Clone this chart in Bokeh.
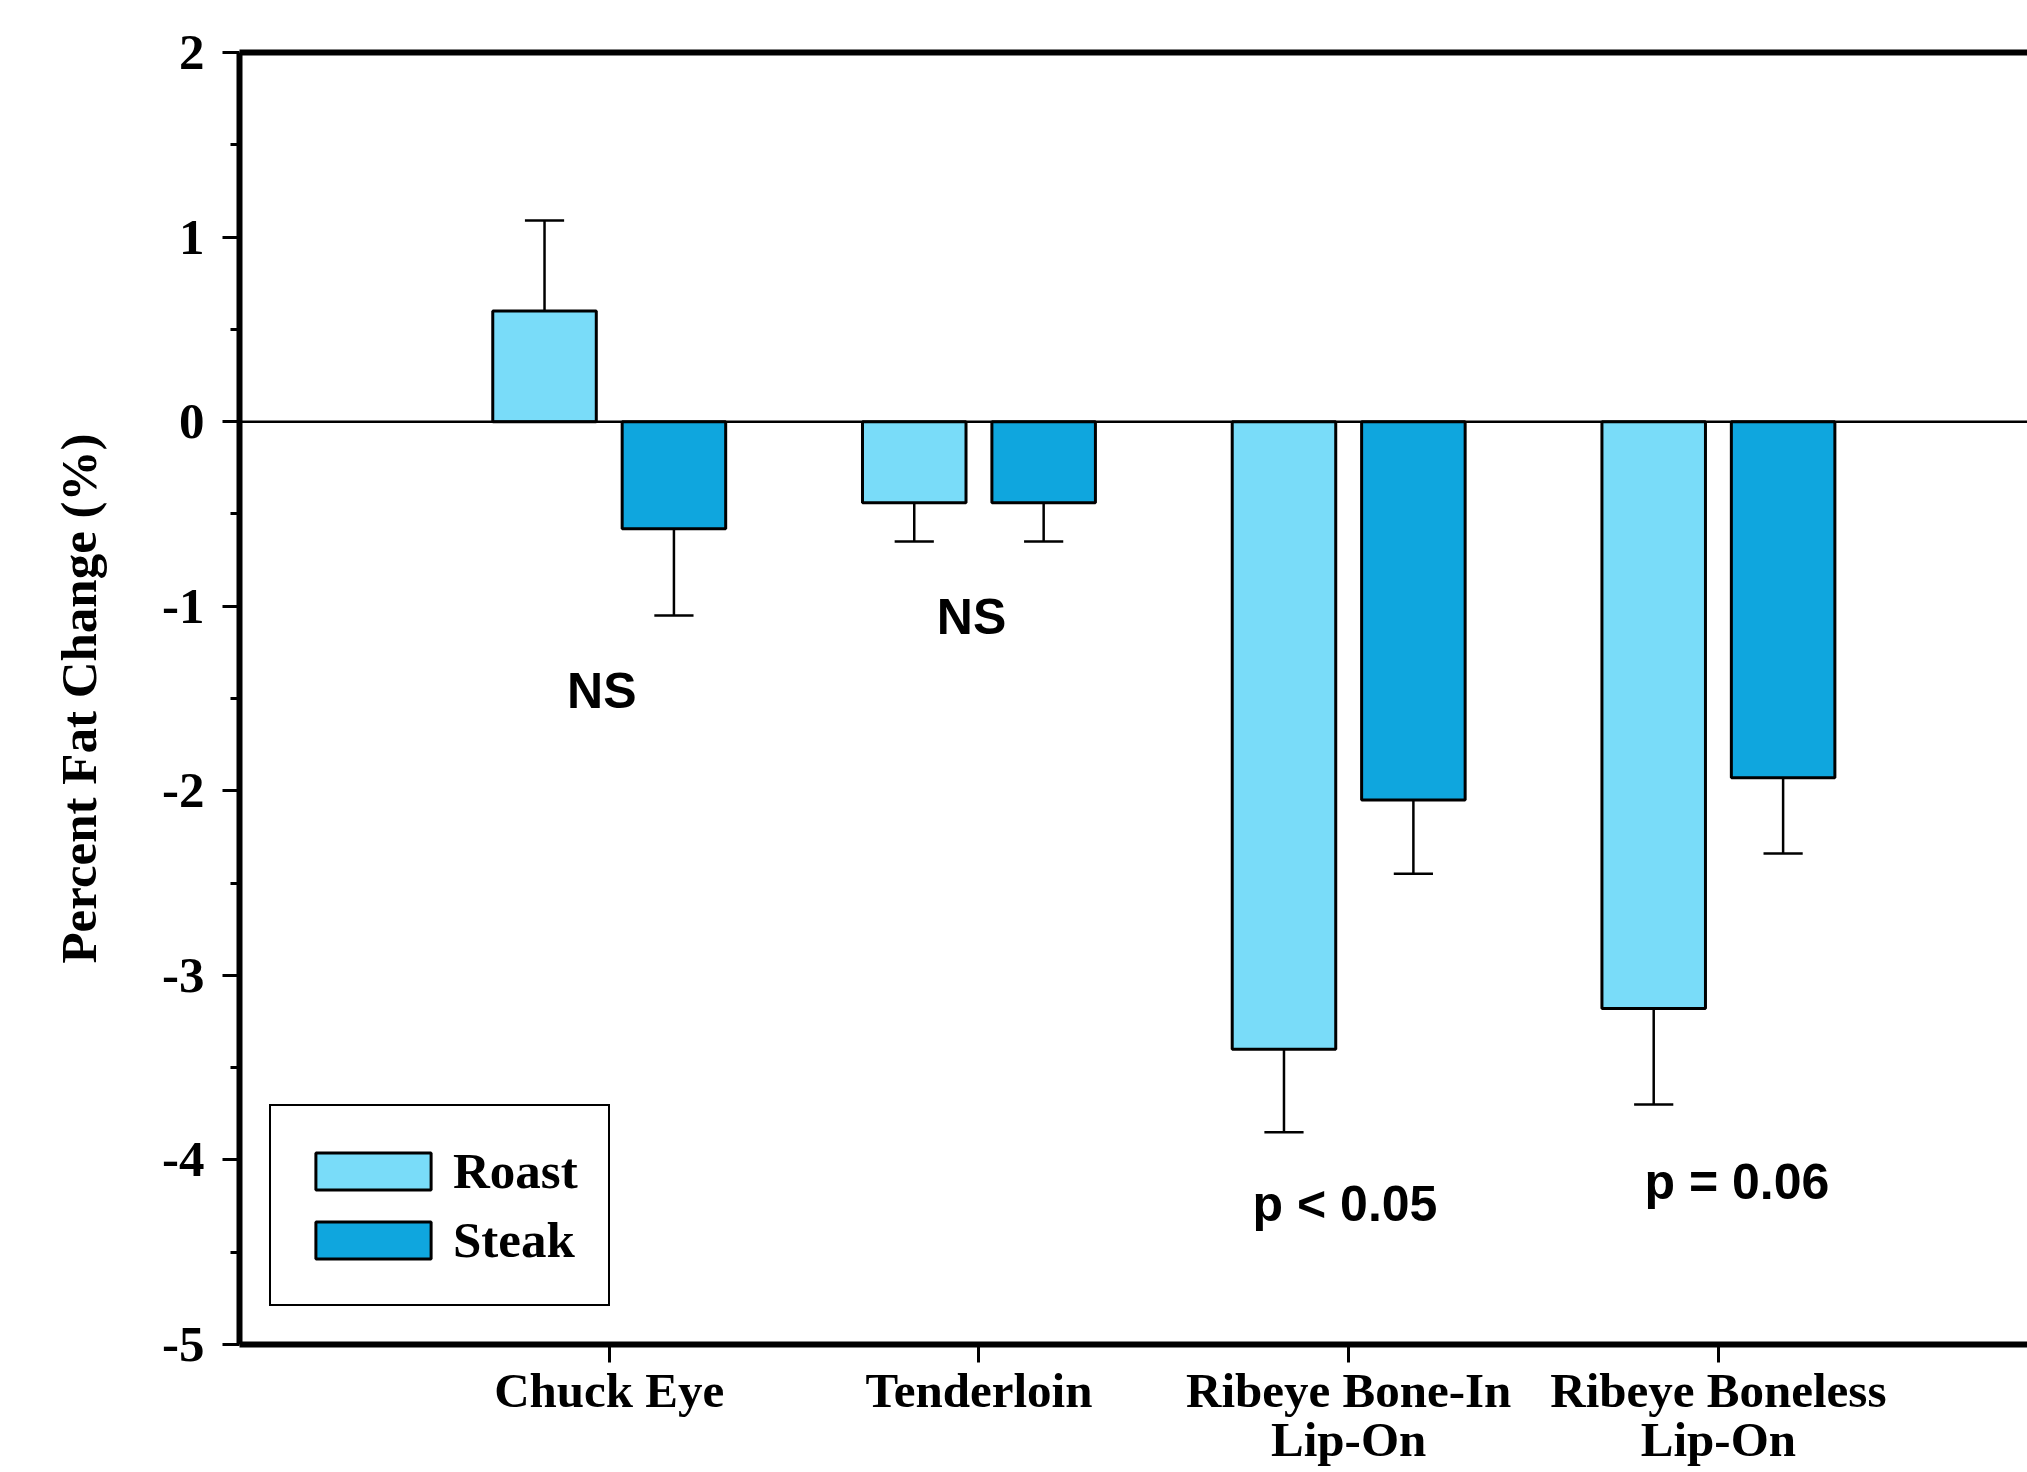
from bokeh.plotting import figure
from bokeh.models import LinearAxis, FixedTicker, Span, Range1d
from bokeh.core.properties import value
from bokeh.embed import file_html
from bokeh.resources import INLINE

# ---- data ----
categories = ["Chuck Eye", "Tenderloin", "Ribeye Bone-In\nLip-On", "Ribeye Boneless\nLip-On"]
roast = [0.60, -0.44, -3.40, -3.18]
roast_err = [0.49, 0.21, 0.45, 0.52]
steak = [-0.58, -0.44, -2.05, -1.93]
steak_err = [0.47, 0.21, 0.40, 0.41]
notes = ["NS", "NS", "p < 0.05", "p = 0.06"]
note_x = [0.98, 1.98, 2.99, 4.05]
note_y = [-1.46, -1.06, -4.24, -4.12]
y_ticks = [2, 1, 0, -1, -2, -3, -4, -5]

ROAST_COLOR = "#79DCF9"
STEAK_COLOR = "#0FA6DE"
SERIF = "Liberation Serif"
SANS = "Liberation Sans"

p = figure(width=2027, height=1472,
           x_range=Range1d(0, 4.836), y_range=Range1d(-5, 2),
           output_backend="svg", toolbar_location=None,
           min_border_left=239, min_border_top=52, min_border_bottom=128,
           min_border_right=0)
p.outline_line_color = None
p.grid.visible = False
p.background_fill_color = "white"
p.border_fill_color = "white"

# y axis
ya = p.yaxis[0]
ya.ticker = FixedTicker(ticks=y_ticks, minor_ticks=[t - 0.5 for t in y_ticks[:-1]])
ya.major_label_overrides = {t: str(t) for t in y_ticks}
ya.axis_line_width = 6
ya.axis_line_color = "black"
ya.major_tick_line_width = 3
ya.minor_tick_line_width = 3
ya.major_tick_out = 17
ya.major_tick_in = 0
ya.minor_tick_out = 9
ya.minor_tick_in = 0
ya.major_label_text_font = SERIF
ya.major_label_text_font_style = "bold"
ya.major_label_text_font_size = "51px"
ya.major_label_text_color = "black"
ya.major_label_standoff = 18
ya.axis_label = "Percent Fat Change (%)"
ya.axis_label_text_font = SERIF
ya.axis_label_text_font_style = "bold"
ya.axis_label_text_font_size = "51px"
ya.axis_label_text_color = "black"
ya.axis_label_standoff = 52

# x axis with category names
xa = p.xaxis[0]
xa.ticker = FixedTicker(ticks=list(range(1, len(categories) + 1)), minor_ticks=[])
xa.major_label_overrides = {i + 1: name for i, name in enumerate(categories)}
xa.axis_line_width = 6
xa.axis_line_color = "black"
xa.major_tick_line_width = 3
xa.major_tick_out = 18
xa.major_tick_in = 0
xa.minor_tick_line_color = None
xa.major_label_text_font = SERIF
xa.major_label_text_font_style = "bold"
xa.major_label_text_font_size = "49px"
xa.major_label_text_color = "black"
xa.major_label_text_line_height = 0.9
xa.major_label_standoff = 0

# top frame line
top = LinearAxis(ticker=FixedTicker(ticks=[]), axis_line_width=6, axis_line_color="black",
                 major_label_text_font_size="0px", major_tick_line_color=None,
                 minor_tick_line_color=None)
p.add_layout(top, "above")

# zero line
p.add_layout(Span(location=0, dimension="width", line_color="black", line_width=2.5))

n = len(categories)
offset = 0.175
bar_w = 0.28
cap = 0.053
rx = [i + 1 - offset for i in range(n)]
sx = [i + 1 + offset for i in range(n)]

def ends(vals, errs):
    return [v + (e if v > 0 else -e) for v, e in zip(vals, errs)]

r_end = ends(roast, roast_err)
s_end = ends(steak, steak_err)

for xs, vals, end in ((rx, roast, r_end), (sx, steak, s_end)):
    p.segment(x0=xs, y0=vals, x1=xs, y1=end, line_color="black", line_width=2.5)
    p.segment(x0=[x - cap for x in xs], y0=end, x1=[x + cap for x in xs], y1=end,
              line_color="black", line_width=2.5)

p.vbar(x=rx, top=roast, bottom=0, width=bar_w, fill_color=ROAST_COLOR,
       line_color="black", line_width=3, legend_label="Roast")
p.vbar(x=sx, top=steak, bottom=0, width=bar_w, fill_color=STEAK_COLOR,
       line_color="black", line_width=3, legend_label="Steak")

p.text(x=note_x, y=note_y, text=notes, text_font=value(SANS), text_font_style="bold",
       text_font_size="50px", text_align="center", text_baseline="middle", text_color="black")

lg = p.legend[0]
lg.location = (30, 38)
lg.margin = 0
lg.padding = 30
lg.label_height = 69
lg.spacing = 0
lg.glyph_width = 144
lg.glyph_height = 46
lg.label_standoff = 8
lg.label_width = 100
lg.label_text_font = SERIF
lg.label_text_font_style = "bold"
lg.label_text_font_size = "51px"
lg.label_text_color = "black"
lg.border_line_color = "black"
lg.border_line_alpha = 1
lg.border_line_width = 2.5
lg.background_fill_alpha = 1

open("out.html", "w").write(file_html(p, INLINE))
